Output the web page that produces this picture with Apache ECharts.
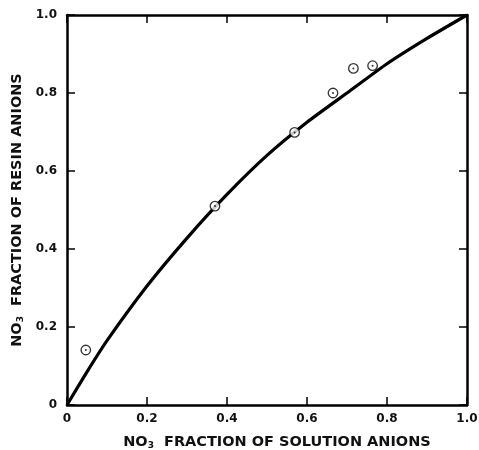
<!DOCTYPE html>
<html>
<head>
<meta charset="utf-8">
<script src="https://cdn.jsdelivr.net/npm/echarts@6/dist/echarts.min.js"></script>
<style>html,body{margin:0;padding:0;background:#fff}#c{width:479px;height:450px}</style>
</head>
<body>
<div id="c"></div>
<script>
// Smooth curve
var curveX = [0, 0.05, 0.1, 0.2, 0.3, 0.4, 0.5, 0.6, 0.7, 0.8, 0.9, 1.0];
var curveY = [0, 0.085, 0.165, 0.305, 0.428, 0.54, 0.64, 0.725, 0.80, 0.875, 0.94, 1.0];
// Measured points
var pointX = [0.047, 0.37, 0.569, 0.665, 0.716, 0.764];
var pointY = [0.141, 0.51, 0.699, 0.80, 0.863, 0.870];
var tickValues = [0, 0.2, 0.4, 0.6, 0.8, 1.0];
var xTitle = "FRACTION OF SOLUTION ANIONS";
var yTitle = "FRACTION OF RESIN ANIONS";

function pairs(a, b) { return a.map(function (v, i) { return [v, b[i]]; }); }
function fmt(v) { return v === 0 ? "0" : v.toFixed(1); }

var font = "DejaVu Sans";
function axisCommon() {
  return {
    min: 0, max: 1, interval: 0.2,
    axisLine: { show: true, onZero: false, lineStyle: { color: "#000", width: 2.5 } },
    axisTick: { show: true, inside: true, length: 8, lineStyle: { color: "#000", width: 1.5 } },
    splitLine: { show: false }
  };
}
var labelStyle = { color: "#111", fontFamily: font, fontWeight: "bold", fontSize: 12, formatter: fmt };
function rich(size) {
  return {
    t: { fontFamily: font, fontWeight: "bold", fontSize: size, color: "#111" },
    sub: { fontFamily: font, fontWeight: "bold", fontSize: 9, color: "#111", padding: [7, 0, 0, 0] }
  };
}

var chart = echarts.init(document.getElementById("c"), null, { renderer: "canvas" });
chart.setOption({
  animation: false,
  backgroundColor: "#fff",
  grid: { left: 67, right: 12, top: 15, bottom: 45, containLabel: false, outerBoundsMode: "none" },
  xAxis: [
    Object.assign(axisCommon(), {
      type: "value", position: "bottom",
      axisLabel: Object.assign({ margin: 8 }, labelStyle),
      name: "{t|NO}{sub|3}{t|  " + xTitle + "}",
      nameLocation: "middle", nameGap: 29,
      nameTextStyle: { rich: rich(14.5), padding: [0, 0, 0, 20] }
    }),
    Object.assign(axisCommon(), {
      type: "value", position: "top", axisLabel: { show: false }
    })
  ],
  yAxis: [
    Object.assign(axisCommon(), {
      type: "value", position: "left",
      axisLabel: Object.assign({ margin: 10 }, labelStyle),
      name: "{t|NO}{sub|3}{t|  " + yTitle + "}",
      nameLocation: "middle", nameGap: 42, nameRotate: 90,
      nameTextStyle: { rich: rich(14.5) }
    }),
    Object.assign(axisCommon(), {
      type: "value", position: "right", axisLabel: { show: false }
    })
  ],
  series: [
    {
      type: "line", data: pairs(curveX, curveY), smooth: 0.2,
      showSymbol: false, lineStyle: { color: "#000", width: 3.2 }, z: 2
    },
    {
      type: "scatter", data: pairs(pointX, pointY), symbol: "circle", symbolSize: 9.5,
      itemStyle: { color: "#fff", borderColor: "#000", borderWidth: 1.3 }, z: 3
    },
    {
      type: "scatter", data: pairs(pointX, pointY), symbol: "circle", symbolSize: 2,
      itemStyle: { color: "#000" }, z: 4
    }
  ]
});
</script>
</body>
</html>
